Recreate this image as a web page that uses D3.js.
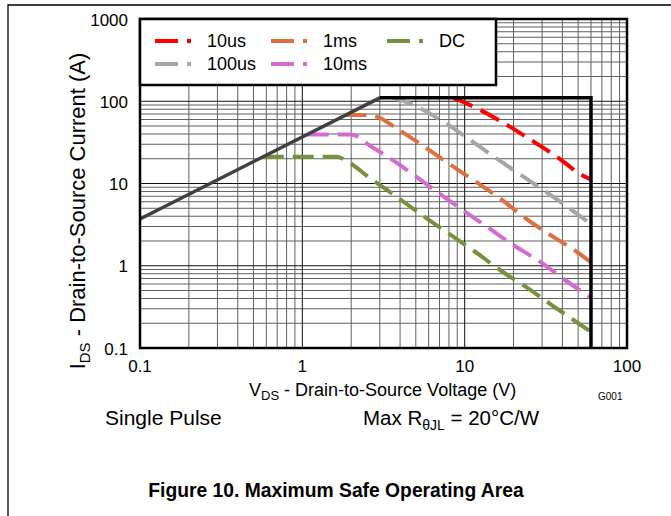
<!DOCTYPE html>
<html><head><meta charset="utf-8">
<script src="https://cdn.jsdelivr.net/npm/d3@7"></script>
<style>body{margin:0;background:#fff} text{font-family:"Liberation Sans",Arial,Helvetica,sans-serif;fill:#000}</style>
</head><body><svg id="c" width="671" height="516"></svg>
<script>
// ---- data ----
const xTicks = [0.1, 1, 10, 100];
const xTickLabels = ["0.1", "1", "10", "100"];
const yTicks = [0.1, 1, 10, 100, 1000];
const yTickLabels = ["0.1", "1", "10", "100", "1000"];
const seriesNames = ["10us", "100us", "1ms", "10ms", "DC"];
const s10us  = [[8.5,110],[9.14,104],[11.9,82],[17.3,54.8],[25.3,34.4],[36.9,21.2],[52.6,12.7],[60,11.2]];
const s100us = [[3.6,110],[4.0,104],[5.07,86],[7.57,54.8],[10.8,33.8],[15.7,20.2],[23.0,12.1],[32.7,7.6],[60,3.2]];
const s1ms   = [[1.84,68],[2.54,68],[2.87,65],[3.81,46.9],[5.44,29.4],[7.93,17.6],[11.3,11.0],[16.5,6.6],[23,3.95],[33.6,2.37],[49,1.48],[60,1.1]];
const s10ms  = [[1.08,39.5],[2.0,39.5],[2.2,37],[2.49,30.8],[3.23,22.2],[4.72,13.3],[6.73,7.95],[13.7,2.98],[19.9,1.79],[29.1,1.12],[41.5,0.671],[60,0.41]];
const sDC    = [[0.57,21.2],[1.63,21.2],[1.9,18.5],[2.61,11.6],[3.81,6.91],[5.56,4.03],[7.93,2.48],[11.6,1.48],[16.5,0.888],[24.1,0.547],[34.4,0.333],[50.1,0.2],[60,0.157]];
const rdsLimit = [[0.1,3.7],[3,110]];
const currentLimit = [[3,110],[60,110],[60,0.1]];

// ---- styles ----
const seriesColors = ["#ff0000", "#a6a6a6", "#dc7040", "#d36ccf", "#76923c"];
const seriesData = [s10us, s100us, s1ms, s10ms, sDC];

const svg = d3.select("#c");
const L = 140, R = 627, T = 19, B = 348;
const x = d3.scaleLog().domain([0.1, 100]).range([L, R]);
const y = d3.scaleLog().domain([0.1, 1000]).range([B, T]);

// outer frame of the page
svg.append("path").attr("d", `M8,516 L8,5 L671,5`).attr("fill","none").attr("stroke","#000").attr("stroke-width",1.3);

// grid
const g = svg.append("g");
const minors = (lo, hi) => { const a=[]; for (let d=lo; d<hi; d*=10) for (let k=2;k<=9;k++) a.push(d*k); return a; };
g.selectAll(".vx").data(minors(0.1,100)).join("line")
  .attr("x1", d=>x(d)).attr("x2", d=>x(d)).attr("y1", T).attr("y2", B)
  .attr("stroke", "#606060").attr("stroke-width", 1);
g.selectAll(".hy").data(minors(0.1,1000)).join("line")
  .attr("y1", d=>y(d)).attr("y2", d=>y(d)).attr("x1", L).attr("x2", R)
  .attr("stroke", "#606060").attr("stroke-width", 1);
g.selectAll(".vmaj").data(xTicks).join("line")
  .attr("x1", d=>x(d)).attr("x2", d=>x(d)).attr("y1", T).attr("y2", B)
  .attr("stroke", "#111").attr("stroke-width", 1);
g.selectAll(".hmaj").data(yTicks).join("line")
  .attr("y1", d=>y(d)).attr("y2", d=>y(d)).attr("x1", L).attr("x2", R)
  .attr("stroke", "#111").attr("stroke-width", 1);

// series
const line = d3.line().x(d=>x(d[0])).y(d=>y(d[1])).curve(d3.curveMonotoneX);
seriesData.forEach((s,i) => {
  svg.append("path").attr("d", line(s)).attr("fill","none")
    .attr("stroke", seriesColors[i]).attr("stroke-width", 4)
    .attr("stroke-dasharray", "21,9");
});
// limits
const lin = d3.line().x(d=>x(d[0])).y(d=>y(d[1]));
svg.append("path").attr("d", lin(rdsLimit)).attr("fill","none").attr("stroke","#404040").attr("stroke-width",3.5);
svg.append("path").attr("d", lin(currentLimit)).attr("fill","none").attr("stroke","#000").attr("stroke-width",3.5);

// frame
svg.append("rect").attr("x",L).attr("y",T).attr("width",R-L).attr("height",B-T)
  .attr("fill","none").attr("stroke","#000").attr("stroke-width",2.5);

// legend
svg.append("rect").attr("x",L).attr("y",T).attr("width",356).attr("height",66)
  .attr("fill","#fff").attr("stroke","#000").attr("stroke-width",2.5);
const legPos = [[155,41],[155,64],[271,41],[271,64],[387,41]];
seriesNames.forEach((n,i) => {
  const [lx, ly] = legPos[i];
  svg.append("line").attr("x1",lx).attr("x2",lx+36).attr("y1",ly).attr("y2",ly)
    .attr("stroke",seriesColors[i]).attr("stroke-width",4).attr("stroke-dasharray","23,9");
  svg.append("text").attr("x",lx+52).attr("y",ly).attr("dominant-baseline","central")
    .attr("font-size",18).text(n);
});

// tick labels
svg.selectAll(".yt").data(yTicks).join("text")
  .attr("x",128).attr("y",d=>y(d)+1).attr("text-anchor","end").attr("dominant-baseline","central")
  .attr("font-size",17).text((d,i)=>yTickLabels[i]);
svg.selectAll(".xt").data(xTicks).join("text")
  .attr("x",d=>x(d)).attr("y",366).attr("text-anchor","middle").attr("dominant-baseline","central")
  .attr("font-size",17).text((d,i)=>xTickLabels[i]);

// axis titles
const xl = svg.append("text").attr("x",249).attr("y",396).attr("font-size",18);
xl.append("tspan").text("V");
xl.append("tspan").attr("font-size",13).attr("dy",4).text("DS");
xl.append("tspan").attr("dy",-4).text(" - Drain-to-Source Voltage (V)");

const yl = svg.append("text").attr("transform","translate(85,211) rotate(-90)").attr("text-anchor","middle").attr("font-size",22);
yl.append("tspan").text("I");
yl.append("tspan").attr("font-size",15).attr("dy",5).text("DS");
yl.append("tspan").attr("dy",-5).text(" - Drain-to-Source Current (A)");

svg.append("text").attr("x",598).attr("y",400).attr("font-size",10).text("G001");

svg.append("text").attr("x",105).attr("y",425).attr("font-size",21).text("Single Pulse");
const mr = svg.append("text").attr("x",363).attr("y",425).attr("font-size",20.5);
mr.append("tspan").text("Max R");
mr.append("tspan").attr("font-size",14).attr("dy",5).text("θJL");
mr.append("tspan").attr("dy",-5).text(" = 20°C/W");

svg.append("text").attr("x",336).attr("y",497).attr("text-anchor","middle")
  .attr("font-size",19.3).attr("font-weight","bold").text("Figure 10. Maximum Safe Operating Area");
</script></body></html>
